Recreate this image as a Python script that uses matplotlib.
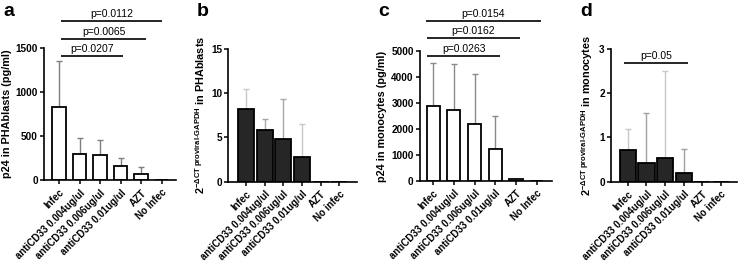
import matplotlib
matplotlib.use("Agg")
import matplotlib.pyplot as plt
import numpy as np

plt.rcParams['font.family'] = ['Liberation Sans', 'DejaVu Sans']
plt.rcParams['mathtext.fontset'] = 'custom'
plt.rcParams['mathtext.rm'] = 'Liberation Sans'
plt.rcParams['mathtext.it'] = 'Liberation Sans'
plt.rcParams['mathtext.bf'] = 'Liberation Sans:bold'

categories = ["Infec", "antiCD33 0.004ug/ul", "antiCD33 0.006ug/ul",
              "antiCD33 0.01ug/ul", "AZT", "No Infec"]
categories_bd = ["Infec", "antiCD33 0.004ug/ul", "antiCD33 0.006ug/ul",
                 "antiCD33 0.01ug/ul", "AZT", "No infec"]

a_mean = [826, 292, 280, 163, 68, 0]
a_sd = [530, 189, 175, 83, 76, 0]
b_mean = [8.23, 5.9, 4.85, 2.82, 0, 0]
b_sd = [2.22, 1.2, 4.51, 3.68, 0, 0]
c_mean = [2900, 2720, 2200, 1236, 55, 0]
c_sd = [1636, 1800, 1911, 1264, 20, 0]
d_mean = [0.71, 0.43, 0.54, 0.19, 0, 0]
d_sd = [0.49, 1.12, 1.97, 0.56, 0, 0]

a_ticks = [0, 500, 1000, 1500]
b_ticks = [0, 5, 10, 15]
c_ticks = [0, 1000, 2000, 3000, 4000, 5000]
d_ticks = [0, 1, 2, 3]

# significance: (x_start, x_end, y, label)
a_sig = [(0.1, 3.1, 1409, "p=0.0207"), (0.1, 4.25, 1602, "p=0.0065"), (0.1, 5.0, 1807, "p=0.0112")]
c_sig = [(-0.29, 3.23, 4818, "p=0.0263"), (-0.29, 4.19, 5526, "p=0.0162"), (-0.37, 5.2, 6170, "p=0.0154")]
d_sig = [(-0.2, 3.23, 2.68, "p=0.05")]

W, H = 739, 264
fig = plt.figure(figsize=(W / 100, H / 100), dpi=100)

def px_axes(l, r, b, t):
    return fig.add_axes([l / W, (H - b) / H, (r - l) / W, (b - t) / H])

panels = [
    dict(rect=(44.3, 176, 180, 48), xlim=(-0.72, 5.7), mean=a_mean, sd=a_sd, ticks=a_ticks,
         fill='white', width=0.65, ecol=['#7f7f7f'] * 6, sig=a_sig, cats=categories,
         ylabel="p24 in PHAblasts (pg/ml)", letter='a', lx=3),
    dict(rect=(228.3, 356.7, 181.7, 49), xlim=(-0.95, 5.93), mean=b_mean, sd=b_sd, ticks=b_ticks,
         fill='#262626', width=0.87,
         ecol=['#c8c8c8', '#a8a8a8', '#a8a8a8', '#c8c8c8', '#c8c8c8', '#c8c8c8'], sig=[],
         cats=categories_bd,
         ylabel=r"$\mathregular{2^{-\Delta CT\ proviral\text{-}GAPDH}}$ in PHAblasts", letter='b', lx=197),
    dict(rect=(420, 552, 180.7, 51.3), xlim=(-0.64, 5.74), mean=c_mean, sd=c_sd, ticks=c_ticks,
         fill='white', width=0.63, ecol=['#8a8a8a'] * 6, sig=c_sig, cats=categories,
         ylabel="p24 in monocytes (pg/ml)", letter='c', lx=378),
    dict(rect=(611, 737, 181.7, 49), xlim=(-0.9, 5.86), mean=d_mean, sd=d_sd, ticks=d_ticks,
         fill='#262626', width=0.87,
         ecol=['#c8c8c8', '#a0a0a0', '#c8c8c8', '#a0a0a0', '#c8c8c8', '#c8c8c8'], sig=d_sig,
         cats=categories_bd,
         ylabel=r"$\mathregular{2^{-\Delta CT\ proviral\text{-}GAPDH}}$ in monocytes", letter='d', lx=580),
]

for p in panels:
    l, r, b, t = p['rect']
    ax = px_axes(l, r, b, t)
    x = np.arange(len(p['mean']))
    for i in range(len(x)):
        if p['sd'][i] > 0:
            ax.errorbar([x[i]], [p['mean'][i]], yerr=[[0], [p['sd'][i]]], fmt='none',
                        ecolor=p['ecol'][i], elinewidth=1.0, capsize=2.3, capthick=1.0, zorder=1)
    ax.bar(x, p['mean'], width=p['width'], color=p['fill'], edgecolor='black',
           linewidth=1.3, zorder=2)
    ax.set_xlim(*p['xlim'])
    ax.set_ylim(0, p['ticks'][-1])
    ax.set_yticks(p['ticks'])
    ax.set_xticks(x)
    ax.set_xticklabels(p['cats'], rotation=45, ha='right', va='top',
                       rotation_mode='anchor', fontsize=7, fontweight='bold')
    for lab in ax.get_yticklabels():
        lab.set_fontsize(7.2)
        lab.set_fontweight('bold')
    ax.tick_params(axis='both', width=1.1, length=3, direction='out', pad=1.5)
    ax.tick_params(axis='x', pad=2.5)
    for s in ['top', 'right']:
        ax.spines[s].set_visible(False)
    for s in ['left', 'bottom']:
        ax.spines[s].set_linewidth(1.2)
    ax.set_ylabel(p['ylabel'], fontsize=7.8, fontweight='bold', labelpad=3)
    for (x0, x1, y, lab) in p['sig']:
        ax.plot([x0, x1], [y, y], color='black', lw=1.2, clip_on=False, solid_capstyle='butt')
        ax.annotate(lab, xy=((x0 + x1) / 2, y), xytext=(0, 1.5), textcoords='offset points',
                    ha='center', va='bottom', fontsize=7.5, annotation_clip=False)
    fig.text(p['lx'] / W, 1 - 15.5 / H, p['letter'], fontsize=14, fontweight='bold',
             va='baseline', ha='left')

fig.savefig("out.png", dpi=100)
